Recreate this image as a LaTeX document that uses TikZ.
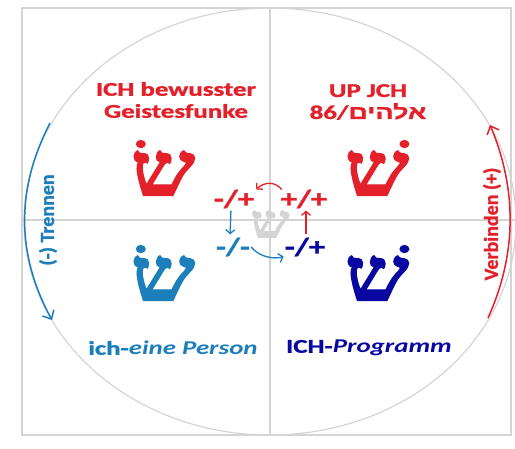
\documentclass[tikz,border=0pt]{standalone}
\usepackage{fontspec}
\setmainfont{Carlito}[BoldFeatures={FakeBold=1.2}]
\newfontfamily\hebfont[Script=Hebrew, BoldFeatures={FakeBold=1}]{Liberation Sans}
\newfontfamily\shinfont[Script=Hebrew, BoldFeatures={FakeBold=1.5}]{Liberation Serif}
\TeXXeTstate=1
\usetikzlibrary{arrows.meta, positioning}
\definecolor{ichred}{RGB}{228,32,42}
\definecolor{ichblue}{RGB}{28,126,186}
\definecolor{ichnavy}{RGB}{8,8,160}
\definecolor{ichgray}{RGB}{212,212,212}
\tikzstyle{arrow} = [line width=1.3pt,-{Straight Barb[length=4pt,width=9pt]}]
\tikzstyle{arc} = [line width=1.5pt,-{Straight Barb[length=7pt,width=13pt]}]
\tikzstyle{frame} = [ichgray, line width=1.2pt]
\tikzstyle{title} = [font=\fontsize{19.5}{22}\selectfont\bfseries, align=center, inner sep=0pt, xscale=1.38]
\tikzstyle{side} = [font=\fontsize{20}{22}\selectfont\bfseries, inner sep=0pt, rotate=90]
\tikzstyle{shin} = [font=\fontsize{76}{76}\selectfont\shinfont\bfseries, inner sep=0pt, xscale=1.2]
\tikzstyle{sign} = [font=\fontsize{25}{25}\selectfont\bfseries, inner sep=0pt, xscale=1.3]

\begin{document}
\begin{tikzpicture}[x=1pt,y=-1pt]
		\useasboundingbox (0,0) rectangle (515,448);
		\draw[frame] (22,8) rectangle (511,435);
		\draw[frame] (270,221.5) ellipse [x radius=246, y radius=213.5];
		\draw[frame] (22,220) -- (515,220) (270,8) -- (270,435);
		\node[title, text=ichred](geist) at (176,100) {ICH bewusster\\Geistesfunke};
		\node[title, text=ichred](upjch) at (368,102) {UP JCH\\86/{\hebfont\bfseries\beginR אלהים\endR}};
		\node[shin, text=ichred](s_tl) at (163,168) {^^^^05e9^^^^05c2};
		\node[shin, text=ichred](s_tr) at (377,168) {^^^^05e9^^^^05c1};
		\node[shin, text=ichblue](s_bl) at (163,273) {^^^^05e9^^^^05c2};
		\node[shin, text=ichnavy](s_br) at (377,273) {^^^^05e9^^^^05c1};
		\node[shin, text=ichgray, font=\fontsize{46}{46}\selectfont\shinfont\bfseries](s_mid) at (270,224) {^^^^05e9};
		\node[sign, text=ichred](mp) at (234,199) {-/+};
		\node[sign, text=ichred](pp) at (304,199) {+/+};
		\node[sign, text=ichblue](mm) at (233,247) {-/-};
		\node[sign, text=ichnavy](np) at (305,247) {-/+};
		\draw[arrow, ichred] ([xshift=1pt]pp.north west) .. controls +(-6,-8) and +(8,-8) .. ([xshift=2pt]mp.north east);
		\draw[arrow, ichblue, shorten <=2pt, shorten >=3pt] ([xshift=-3pt]mp.south) -- ([xshift=-3pt]mm.north);
		\draw[arrow, ichblue] ([xshift=1pt]mm.east) .. controls +(8,10) and +(-10,3) .. ([xshift=-1pt]np.south west);
		\draw[arrow, ichred, shorten <=3pt, shorten >=2pt] ([xshift=1pt]np.north) -- ([xshift=2pt]pp.south);
		\coordinate (l_top) at (50,123);
		\coordinate (l_bot) at (52,320);
		\coordinate (r_bot) at (488,318);
		\coordinate (r_top) at (490,125);
		\draw[arc, ichblue] (l_top) .. controls (16,189) and (16,254) .. (l_bot);
		\draw[arc, ichred] (r_bot) .. controls (517,254) and (517,189) .. (r_top);
		\node[side, text=ichblue](trennen) at (48,220) {(-) Trennen};
		\node[side, text=ichred](verbinden) at (492,224) {Verbinden (+)};
		\node[title, text=ichblue](person) at (173,348) {ich-\textit{eine Person}};
		\node[title, text=ichnavy](programm) at (369,348) {ICH-\textit{Programm}};
\end{tikzpicture}
\end{document}
